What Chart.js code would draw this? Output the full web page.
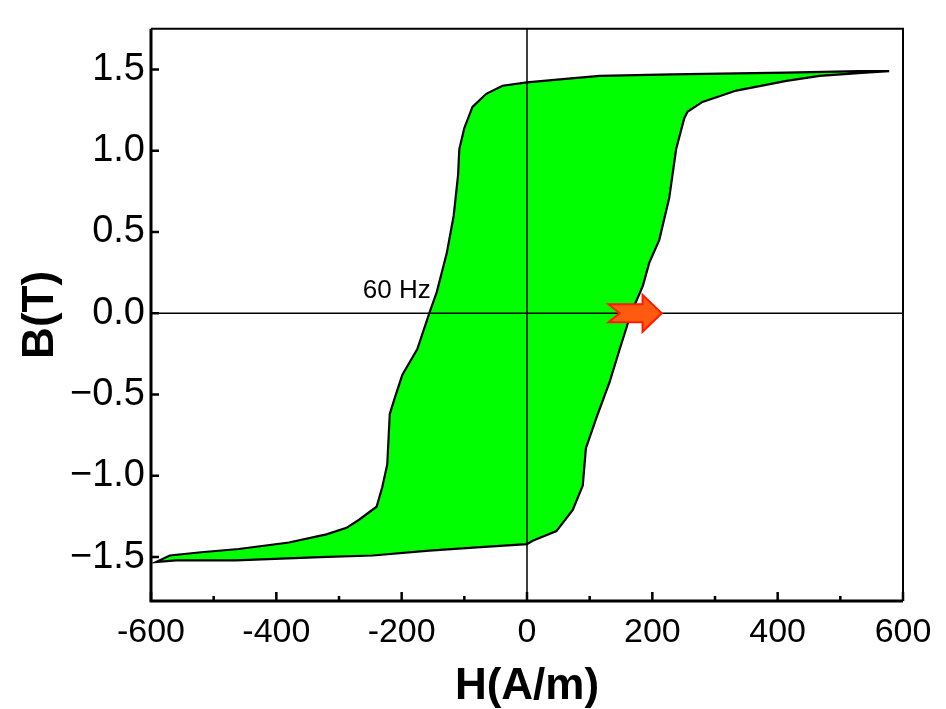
<!DOCTYPE html>
<html><head><meta charset="utf-8">
<script src="https://cdn.jsdelivr.net/npm/chart.js@4.4.1/dist/chart.umd.min.js"></script>
<style>html,body{margin:0;padding:0;background:#fff;}canvas{display:block;}</style>
</head><body>
<canvas id="c" width="946" height="709"></canvas>
<script>
// Descending branch (from +Hmax to -Hmax)
const descH = [578, 530, 414, 232, 116, 57, 0, -39, -65, -87, -100, -108, -110, -117, -128, -144, -156, -175, -199, -211, -219, -223, -231, -240, -268, -288, -320, -380, -460, -520, -570, -592];
const descB = [1.49, 1.49, 1.48, 1.47, 1.46, 1.44, 1.42, 1.40, 1.35, 1.27, 1.14, 1.01, 0.85, 0.60, 0.37, 0.13, 0.00, -0.22, -0.38, -0.52, -0.62, -0.93, -1.07, -1.19, -1.27, -1.32, -1.36, -1.41, -1.45, -1.47, -1.49, -1.53];
// Ascending branch (from -Hmax to +Hmax)
const ascH = [-592, -560, -465, -330, -246, -156, -80, 0, 9, 47, 73, 89, 94, 111, 132, 148, 166, 185, 195, 211, 227, 238, 251, 256, 280, 334, 414, 467, 540, 578];
const ascB = [-1.53, -1.52, -1.52, -1.50, -1.49, -1.46, -1.44, -1.42, -1.40, -1.34, -1.21, -1.06, -0.83, -0.64, -0.42, -0.22, 0.00, 0.17, 0.31, 0.45, 0.71, 1.01, 1.20, 1.24, 1.30, 1.37, 1.43, 1.46, 1.48, 1.49];

const xTicks = [-600, -400, -200, 0, 200, 400, 600];
const xMinorTicks = [-500, -300, -100, 100, 300, 500];
const yTicks = [-1.5, -1.0, -0.5, 0, 0.5, 1.0, 1.5];
const xTitle = 'H(A/m)';
const yTitle = 'B(T)';
const freqLabel = '60 Hz';
const freqLabelAt = [-262, 0.14];
const arrowFrom = [130, 0];
const arrowTo = [215, 0];

const loop = descH.map((h, i) => ({x: h, y: descB[i]}))
  .concat(ascH.map((h, i) => ({x: h, y: ascB[i]})));

const framePlugin = {
  id: 'frame',
  afterDatasetsDraw(chart) {
    const {ctx, chartArea: a, scales: {x, y}} = chart;
    ctx.save();
    ctx.strokeStyle = '#000';
    // zero lines
    const x0 = x.getPixelForValue(0), y0 = y.getPixelForValue(0);
    ctx.lineWidth = 1.5;
    ctx.beginPath();
    ctx.moveTo(a.left, y0); ctx.lineTo(a.right, y0);
    ctx.moveTo(x0, a.top); ctx.lineTo(x0, a.bottom);
    ctx.stroke();
    // arrow
    const ax1 = x.getPixelForValue(arrowFrom[0]), ay = y.getPixelForValue(arrowFrom[1]);
    const ax2 = x.getPixelForValue(arrowTo[0]);
    const L = ax2 - ax1;
    const notch = ax1 + L * 0.21, headBase = ax1 + L * 0.64;
    ctx.beginPath();
    ctx.moveTo(ax1, ay - 9);
    ctx.lineTo(headBase, ay - 9);
    ctx.lineTo(headBase, ay - 18.5);
    ctx.lineTo(ax2, ay);
    ctx.lineTo(headBase, ay + 18.5);
    ctx.lineTo(headBase, ay + 9);
    ctx.lineTo(ax1, ay + 9);
    ctx.lineTo(notch, ay);
    ctx.closePath();
    ctx.fillStyle = '#ff5a10';
    ctx.fill();
    ctx.strokeStyle = '#ff1a00';
    ctx.lineWidth = 2;
    ctx.stroke();
    // label
    ctx.fillStyle = '#000';
    ctx.font = '26px "Liberation Sans", Arial, sans-serif';
    ctx.textAlign = 'left';
    ctx.textBaseline = 'middle';
    ctx.fillText(freqLabel, x.getPixelForValue(freqLabelAt[0]), y.getPixelForValue(freqLabelAt[1]));
    // frame
    ctx.strokeStyle = '#000';
    ctx.lineWidth = 2;
    ctx.beginPath();
    ctx.moveTo(a.left, a.top); ctx.lineTo(a.right, a.top); ctx.lineTo(a.right, a.bottom);
    ctx.stroke();
    ctx.lineWidth = 3;
    ctx.beginPath();
    ctx.moveTo(a.left, a.top); ctx.lineTo(a.left, a.bottom); ctx.lineTo(a.right, a.bottom);
    ctx.stroke();
    // ticks (inward)
    ctx.lineWidth = 2.5;
    ctx.beginPath();
    xTicks.forEach(v => { const p = x.getPixelForValue(v); ctx.moveTo(p, a.bottom); ctx.lineTo(p, a.bottom - 9); });
    xMinorTicks.forEach(v => { const p = x.getPixelForValue(v); ctx.moveTo(p, a.bottom); ctx.lineTo(p, a.bottom - 5); });
    yTicks.forEach(v => { const p = y.getPixelForValue(v); ctx.moveTo(a.left, p); ctx.lineTo(a.left + 8, p); });
    ctx.stroke();
    ctx.restore();
  }
};

new Chart(document.getElementById('c'), {
  type: 'scatter',
  data: {
    datasets: [{
      data: loop,
      showLine: true,
      fill: 'shape',
      backgroundColor: '#00ff00',
      borderColor: '#000000',
      borderWidth: 2.2,
      pointRadius: 0,
      tension: 0
    }]
  },
  options: {
    responsive: false,
    animation: false,
    events: [],
    layout: {padding: {left: 0, right: 43, top: 7.5, bottom: 0}},
    plugins: {legend: {display: false}, tooltip: {enabled: false}},
    scales: {
      x: {
        type: 'linear', min: -600, max: 600,
        afterBuildTicks: s => { s.ticks = xTicks.map(v => ({value: v})); },
        afterFit: s => { s.height = 108; },
        grid: {display: false, drawTicks: false},
        border: {display: false},
        ticks: {
          autoSkip: false, maxRotation: 0, padding: 11, color: '#000',
          font: {family: "'Liberation Sans', Arial, sans-serif", size: 34},
          callback: v => String(v)
        },
        title: {
          display: true, text: xTitle, color: '#000',
          font: {family: "'Liberation Sans', Arial, sans-serif", size: 44, weight: 'bold', lineHeight: 1},
          padding: {top: 0, bottom: 0}
        }
      },
      y: {
        type: 'linear', min: -1.77, max: 1.75,
        afterBuildTicks: s => { s.ticks = yTicks.map(v => ({value: v})); },
        afterFit: s => { s.width = 151; },
        grid: {display: false, drawTicks: false},
        border: {display: false},
        ticks: {
          padding: 6, color: '#000',
          font: {family: "'Liberation Sans', Arial, sans-serif", size: 38},
          callback: v => (v < 0 ? '\u2212' : '') + Math.abs(v).toFixed(1)
        },
        title: {
          display: true, text: yTitle, color: '#000',
          font: {family: "'Liberation Sans', Arial, sans-serif", size: 44, weight: 'bold', lineHeight: 1},
          padding: {top: 19, bottom: 0}
        }
      }
    }
  },
  plugins: [framePlugin]
});
</script>
</body></html>
